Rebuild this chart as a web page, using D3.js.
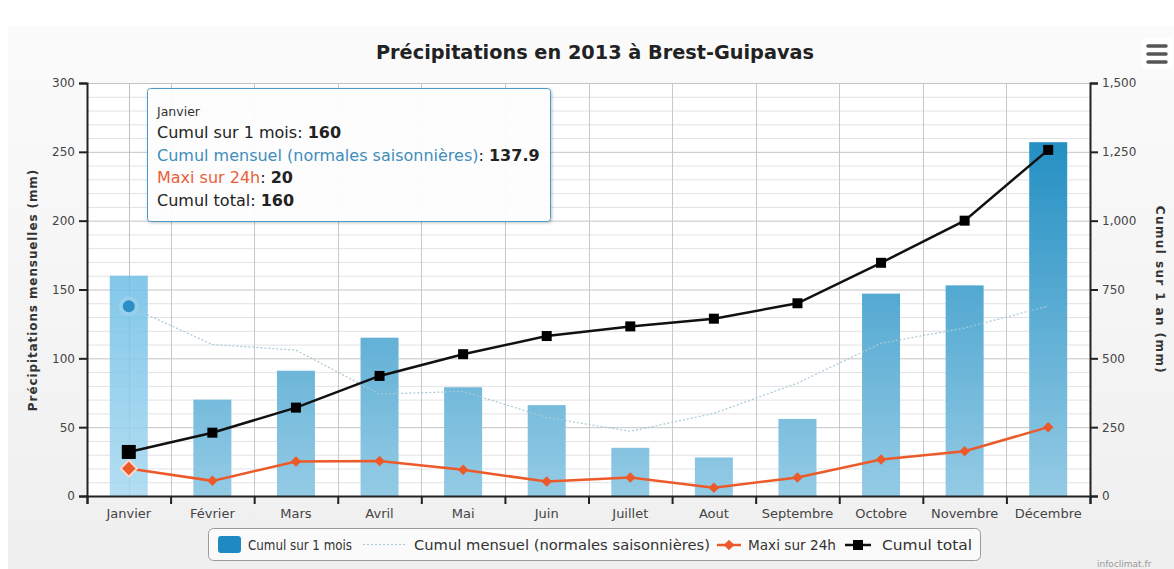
<!DOCTYPE html>
<html>
<head>
<meta charset="utf-8">
<script src="https://cdn.jsdelivr.net/npm/d3@7"></script>
<style>
  body { margin: 0; background: #fff; }
  svg { display: block; font-family: "DejaVu Sans", sans-serif; }
</style>
</head>
<body>
<div class="vis"></div>
<script>
(function() {
  'use strict';

  var months = ["Janvier", "Février", "Mars", "Avril", "Mai", "Juin",
    "Juillet", "Aout", "Septembre", "Octobre", "Novembre", "Décembre"];
  var cumulMois = [160, 70, 91, 115, 79, 66, 35, 28, 56, 147, 153, 257];
  var normales = [137.9, 110, 106, 74, 76, 57, 47, 60, 82, 111, 122, 138];
  var maxi24h = [20, 11, 25, 25.5, 19, 10.5, 13.5, 6, 13.5, 26.5, 32.5, 50];
  var cumulTotal = [160, 230, 321, 436, 515, 581, 616, 644, 700, 847, 1000, 1257];
  var leftTicks = [0, 50, 100, 150, 200, 250, 300];
  var rightTicks = [0, 250, 500, 750, 1000, 1250, 1500];

  var W = 1174, H = 569,
    plot = {left: 87, right: 1090, top: 83, bottom: 496};

  var svg = d3.select('.vis').append('svg')
    .attr('width', W)
    .attr('height', H);

  var defs = svg.append('defs');
  var bg = defs.append('linearGradient').attr('id', 'bgGrad')
    .attr('x1', 0).attr('y1', 0).attr('x2', 0).attr('y2', 1);
  bg.append('stop').attr('offset', '0%').attr('stop-color', '#fbfbfb');
  bg.append('stop').attr('offset', '100%').attr('stop-color', '#efefef');

  var barGrad = defs.append('linearGradient').attr('id', 'barGrad')
    .attr('gradientUnits', 'userSpaceOnUse')
    .attr('x1', 0).attr('y1', plot.top).attr('x2', 0).attr('y2', plot.bottom);
  barGrad.append('stop').attr('offset', '0%').attr('stop-color', '#1286bd');
  barGrad.append('stop').attr('offset', '100%').attr('stop-color', '#94cbe5');

  var hoverGrad = defs.append('linearGradient').attr('id', 'hoverGrad')
    .attr('gradientUnits', 'userSpaceOnUse')
    .attr('x1', 0).attr('y1', plot.top).attr('x2', 0).attr('y2', plot.bottom);
  hoverGrad.append('stop').attr('offset', '0%').attr('stop-color', '#3aa6dc');
  hoverGrad.append('stop').attr('offset', '100%').attr('stop-color', '#a6d8f0');

  var shadow = defs.append('filter').attr('id', 'shadow')
    .attr('x', '-10%').attr('y', '-10%').attr('width', '130%').attr('height', '140%');
  shadow.append('feDropShadow').attr('dx', 1).attr('dy', 1)
    .attr('stdDeviation', 1.5).attr('flood-color', '#000').attr('flood-opacity', 0.25);

  // chart background
  svg.append('rect')
    .attr('x', 8).attr('y', 25).attr('width', W - 8).attr('height', H - 25)
    .attr('fill', 'url(#bgGrad)');

  svg.append('rect')
    .attr('x', plot.left).attr('y', plot.top)
    .attr('width', plot.right - plot.left).attr('height', plot.bottom - plot.top)
    .attr('fill', '#fff');

  var x = d3.scaleBand().domain(months).range([plot.left, plot.right]).padding(0);
  var xb = d3.scaleLinear().domain([0, 12]).range([plot.left, plot.right]);
  var yL = d3.scaleLinear().domain([0, 300]).range([plot.bottom, plot.top]);
  var yR = d3.scaleLinear().domain([0, 1500]).range([plot.bottom, plot.top]);
  var cx = function(i) { return x(months[i]) + x.bandwidth() / 2; };

  // minor + major horizontal grid
  var grid = svg.append('g');
  grid.selectAll('.minor')
    .data(d3.range(0, 301, 10).filter(function(v) { return v % 50 !== 0; }))
    .enter().append('line')
      .attr('x1', plot.left).attr('x2', plot.right)
      .attr('y1', function(d) { return yL(d) + 0.5; })
      .attr('y2', function(d) { return yL(d) + 0.5; })
      .attr('stroke', '#e2e2e2');
  grid.selectAll('.major')
    .data(leftTicks)
    .enter().append('line')
      .attr('x1', plot.left).attr('x2', plot.right)
      .attr('y1', function(d) { return yL(d) + 0.5; })
      .attr('y2', function(d) { return yL(d) + 0.5; })
      .attr('stroke', '#c4c4c4');
  grid.selectAll('.vert')
    .data(d3.range(1, 12))
    .enter().append('line')
      .attr('x1', function(d) { return Math.round(xb(d)) + 0.5; })
      .attr('x2', function(d) { return Math.round(xb(d)) + 0.5; })
      .attr('y1', plot.top).attr('y2', plot.bottom)
      .attr('stroke', '#c8c8c8');

  // crosshair on Janvier
  svg.append('line')
    .attr('x1', Math.round(cx(0)) + 0.5).attr('x2', Math.round(cx(0)) + 0.5)
    .attr('y1', plot.top).attr('y2', plot.bottom)
    .attr('stroke', '#c0c0c0');

  // columns
  var bw = 38;
  svg.selectAll('.bar')
    .data(cumulMois)
    .enter().append('rect')
      .attr('class', 'bar')
      .attr('x', function(d, i) { return cx(i) - bw / 2; })
      .attr('y', function(d) { return yL(d); })
      .attr('width', bw)
      .attr('height', function(d) { return plot.bottom - yL(d); })
      .attr('fill', function(d, i) { return i === 0 ? 'url(#hoverGrad)' : 'url(#barGrad)'; })
      .attr('opacity', function(d, i) { return i === 0 ? 0.85 : 1; });

  // normales (dotted)
  var lineL = d3.line().x(function(d, i) { return cx(i); }).y(function(d) { return yL(d); });
  svg.append('path')
    .datum(normales)
    .attr('d', lineL)
    .attr('fill', 'none')
    .attr('stroke', '#a9c9d6')
    .attr('stroke-width', 1.2)
    .attr('stroke-dasharray', '2,2');
  svg.append('circle').attr('cx', cx(0)).attr('cy', yL(normales[0]))
    .attr('r', 10).attr('fill', '#9fd3ee').attr('opacity', 0.7);
  svg.append('circle').attr('cx', cx(0)).attr('cy', yL(normales[0]))
    .attr('r', 6).attr('fill', '#2b8fc6');

  // maxi sur 24h
  svg.append('path')
    .datum(maxi24h)
    .attr('d', lineL)
    .attr('fill', 'none')
    .attr('stroke', '#ec5a2a')
    .attr('stroke-width', 2.5);
  var diamond = d3.symbol().type(d3.symbolDiamond2);
  svg.selectAll('.dia')
    .data(maxi24h)
    .enter().append('path')
      .attr('transform', function(d, i) { return 'translate(' + cx(i) + ',' + yL(d) + ')'; })
      .attr('d', function(d, i) { return diamond.size(i === 0 ? 170 : 70)(); })
      .attr('fill', '#ec5a2a')
      .attr('stroke', function(d, i) { return i === 0 ? '#fbd8cb' : 'none'; })
      .attr('stroke-width', 2);

  // cumul total
  var lineR = d3.line().x(function(d, i) { return cx(i); }).y(function(d) { return yR(d); });
  svg.append('path')
    .datum(cumulTotal)
    .attr('d', lineR)
    .attr('fill', 'none')
    .attr('stroke', '#111')
    .attr('stroke-width', 2.5);
  svg.selectAll('.sq')
    .data(cumulTotal)
    .enter().append('rect')
      .attr('x', function(d, i) { return cx(i) - (i === 0 ? 7 : 5); })
      .attr('y', function(d, i) { return yR(d) - (i === 0 ? 7 : 5); })
      .attr('width', function(d, i) { return i === 0 ? 14 : 10; })
      .attr('height', function(d, i) { return i === 0 ? 14 : 10; })
      .attr('fill', '#000');

  // axes
  var axL = svg.append('g')
    .attr('transform', 'translate(' + plot.left + ',0)')
    .call(d3.axisLeft(yL).tickValues(leftTicks).tickSize(8).tickPadding(4));
  var axR = svg.append('g')
    .attr('transform', 'translate(' + plot.right + ',0)')
    .call(d3.axisRight(yR).tickValues(rightTicks).tickSize(8).tickPadding(4)
      .tickFormat(d3.format(',')));
  var axB = svg.append('g')
    .attr('transform', 'translate(0,' + plot.bottom + ')')
    .call(d3.axisBottom(xb).tickValues(d3.range(0, 13)).tickSize(8).tickFormat(''));
  var axLab = svg.append('g')
    .attr('transform', 'translate(0,' + plot.bottom + ')')
    .call(d3.axisBottom(x).tickSize(0).tickPadding(13));
  axLab.select('.domain').remove();

  [axL, axR, axB].forEach(function(g) {
    g.select('.domain').attr('stroke', '#222').attr('stroke-width', 2);
    g.selectAll('.tick line').attr('stroke', '#222').attr('stroke-width', 2);
  });
  [axL, axR].forEach(function(g) {
    g.selectAll('text').attr('font-size', 12).attr('fill', '#444')
      .attr('font-family', '"DejaVu Sans", sans-serif');
  });
  axLab.selectAll('text').attr('font-size', 13).attr('fill', '#444')
    .attr('font-family', '"DejaVu Sans", sans-serif');

  // titles
  svg.append('text')
    .attr('x', 595).attr('y', 59)
    .attr('text-anchor', 'middle')
    .attr('font-size', 19.3).attr('font-weight', 'bold').attr('fill', '#222')
    .text('Précipitations en 2013 à Brest-Guipavas');

  svg.append('text')
    .attr('transform', 'translate(37,290) rotate(-90)')
    .attr('text-anchor', 'middle')
    .attr('font-size', 12).attr('font-weight', 'bold').attr('fill', '#333')
    .attr('letter-spacing', 0.9)
    .text('Précipitations mensuelles (mm)');

  svg.append('text')
    .attr('transform', 'translate(1156,290) rotate(90)')
    .attr('text-anchor', 'middle')
    .attr('font-size', 12).attr('font-weight', 'bold').attr('fill', '#333')
    .attr('letter-spacing', 1.4)
    .text('Cumul sur 1 an (mm)');

  // menu button
  var menu = svg.append('g');
  menu.append('rect').attr('x', 1141).attr('y', 38).attr('width', 32).attr('height', 31)
    .attr('rx', 3).attr('fill', '#fff');
  menu.selectAll('.bar-m').data([0, 1, 2]).enter().append('line')
    .attr('x1', 1148).attr('x2', 1166)
    .attr('y1', function(d) { return 46 + d * 8; })
    .attr('y2', function(d) { return 46 + d * 8; })
    .attr('stroke', '#555').attr('stroke-width', 3.5).attr('stroke-linecap', 'round');

  // legend
  var leg = svg.append('g');
  leg.append('rect')
    .attr('x', 208.5).attr('y', 528.5).attr('width', 772).attr('height', 32)
    .attr('rx', 5).attr('fill', '#fafafa').attr('stroke', '#999');
  var ly = 550;
  var legText = function(x0, w, s) {
    leg.append('text').attr('x', x0).attr('y', ly).attr('font-size', 13.5).attr('fill', '#333')
      .attr('textLength', w).attr('lengthAdjust', 'spacingAndGlyphs')
      .text(s);
  };
  leg.append('rect').attr('x', 218).attr('y', 536).attr('width', 23).attr('height', 17)
    .attr('rx', 3).attr('fill', '#1f8ac2');
  legText(248, 104, 'Cumul sur 1 mois');
  leg.append('line').attr('x1', 363).attr('x2', 405).attr('y1', 544.5).attr('y2', 544.5)
    .attr('stroke', '#a9c9d6').attr('stroke-width', 1.2).attr('stroke-dasharray', '2,2');
  legText(414, 296, 'Cumul mensuel (normales saisonnières)');
  leg.append('line').attr('x1', 717).attr('x2', 741).attr('y1', 545).attr('y2', 545)
    .attr('stroke', '#ec5a2a').attr('stroke-width', 2.5);
  leg.append('path').attr('transform', 'translate(729,545)')
    .attr('d', diamond.size(70)()).attr('fill', '#ec5a2a');
  legText(748, 88, 'Maxi sur 24h');
  leg.append('line').attr('x1', 845).attr('x2', 871).attr('y1', 545).attr('y2', 545)
    .attr('stroke', '#111').attr('stroke-width', 2.5);
  leg.append('rect').attr('x', 853).attr('y', 540).attr('width', 10).attr('height', 10)
    .attr('fill', '#000');
  legText(882, 90, 'Cumul total');

  // credit
  svg.append('text').attr('x', 1097).attr('y', 567)
    .attr('font-size', 9).attr('fill', '#999').text('infoclimat.fr');

  // tooltip
  var tip = svg.append('g');
  tip.append('rect')
    .attr('x', 147.5).attr('y', 88.5).attr('width', 403).attr('height', 133)
    .attr('rx', 3).attr('fill', '#fff').attr('fill-opacity', 0.92)
    .attr('stroke', '#4e9ac6').attr('filter', 'url(#shadow)');
  tip.append('text').attr('x', 157).attr('y', 116)
    .attr('font-size', 12.5).attr('fill', '#333').text(months[0]);
  var tipRows = [
    {name: 'Cumul sur 1 mois', color: '#222', value: cumulMois[0]},
    {name: 'Cumul mensuel (normales saisonnières)', color: '#3d8dbb', value: normales[0]},
    {name: 'Maxi sur 24h', color: '#e8603c', value: maxi24h[0]},
    {name: 'Cumul total', color: '#222', value: cumulTotal[0]}
  ];
  tipRows.forEach(function(r, i) {
    var t = tip.append('text').attr('x', 157).attr('y', 138 + i * 22.5)
      .attr('font-size', 16);
    t.append('tspan').attr('fill', r.color).text(r.name);
    t.append('tspan').attr('fill', '#222').text(': ');
    t.append('tspan').attr('fill', '#222').attr('font-weight', 'bold').text(r.value);
  });
}());
</script>
</body>
</html>
